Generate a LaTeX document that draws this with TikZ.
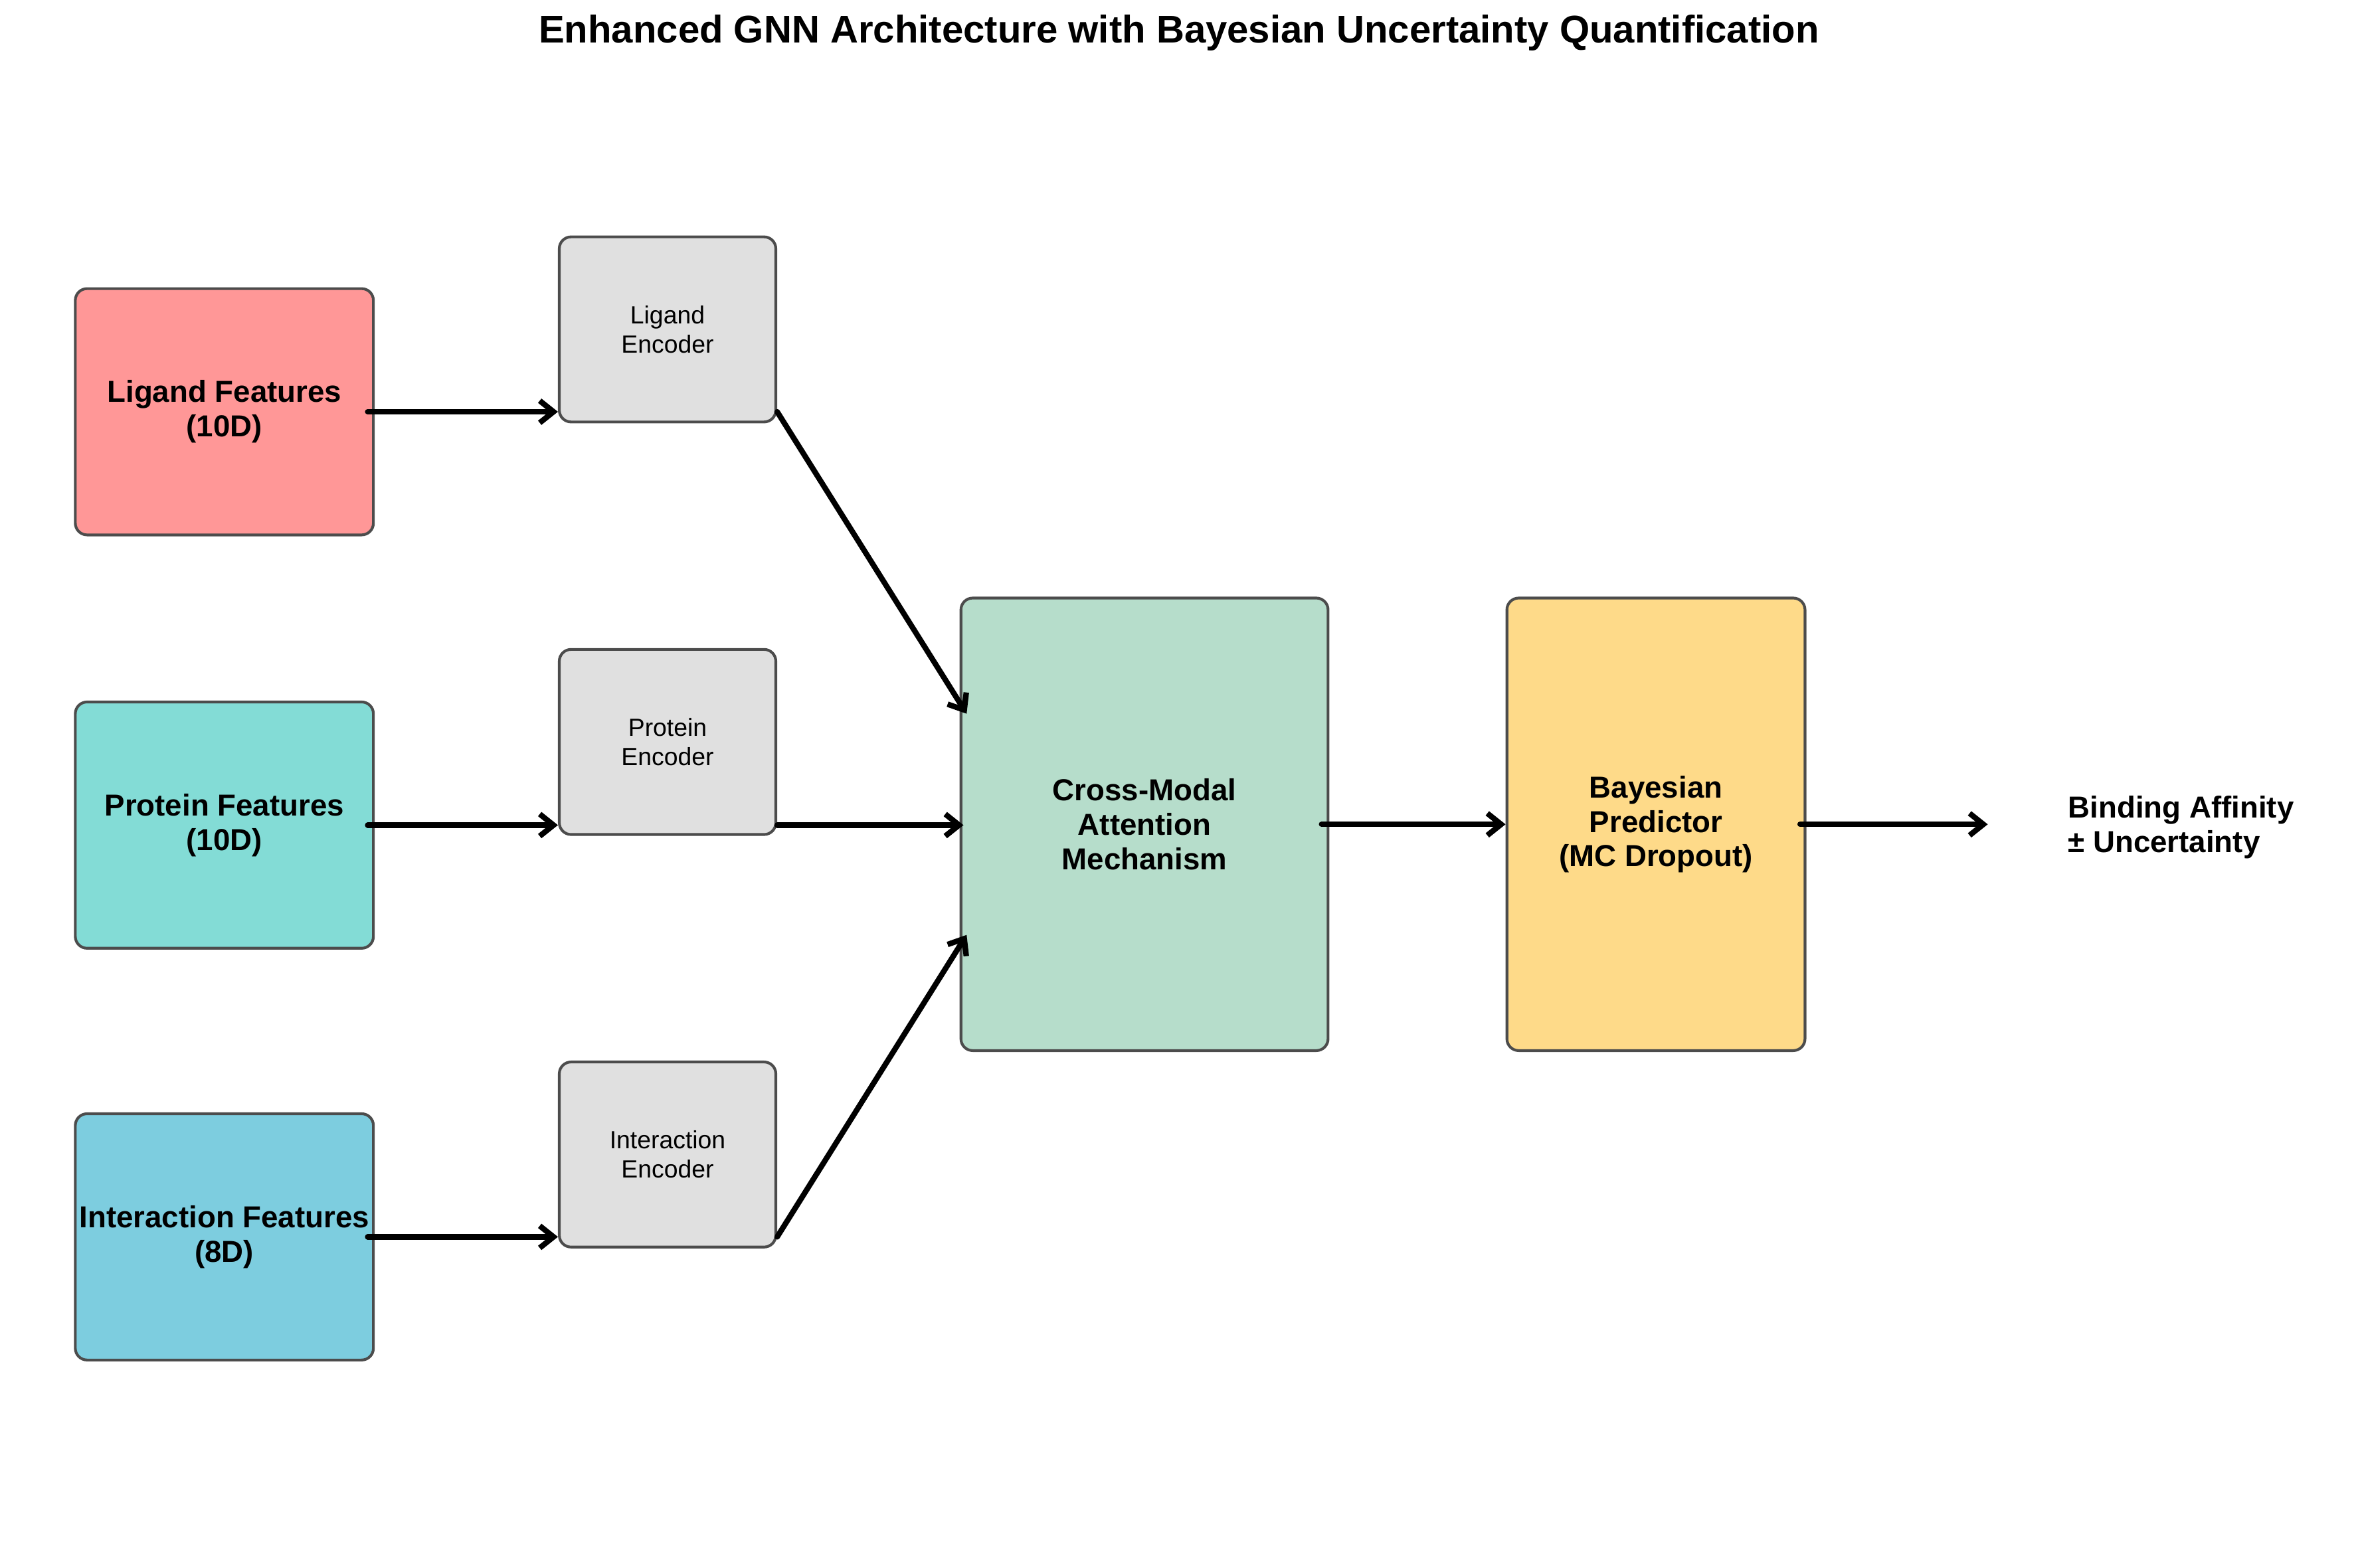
\documentclass[tikz,border=0pt]{standalone}
\usepackage{fontspec}
\setmainfont{Liberation Sans}
\usetikzlibrary{arrows.meta}

\definecolor{ligred}{HTML}{FF9797}
\definecolor{protur}{HTML}{83DCD6}
\definecolor{intblue}{HTML}{7DCDDF}
\definecolor{attgreen}{HTML}{B6DDCB}
\definecolor{bayyel}{HTML}{FEDA89}
\definecolor{encgray}{HTML}{E0E0E0}

\begin{document}
\begin{tikzpicture}
      [every node/.style={font=\fontsize{11}{12.5}\selectfont\bfseries,align=center},
       block/.style={draw=black!70,line width=1pt,rounded corners=0.15cm,inner sep=0pt},
       feat/.style={block,minimum width=3.8cm,minimum height=3.14cm},
       enc/.style={block,fill=encgray,minimum width=2.76cm,minimum height=2.36cm,
                   font=\fontsize{9}{10.5}\selectfont},
       big/.style={block,minimum height=5.77cm},
       flow/.style={-{Straight Barb[length=5pt,width=8pt]},line width=2pt,line cap=round}]
	\useasboundingbox (0,0) rectangle (30.06,19.99);

	\node (title) [font=\fontsize{14}{17}\selectfont\bfseries] at (15.03,19.57)
	  {Enhanced GNN Architecture with Bayesian Uncertainty Quantification};

	% inputs
	\node (ligf) [feat,fill=ligred]  at (2.86,14.74) {Ligand Features\\(10D)};
	\node (prof) [feat,fill=protur]  at (2.86,9.47)  {Protein Features\\(10D)};
	\node (intf) [feat,fill=intblue] at (2.86,4.22)  {Interaction Features\\(8D)};

	% encoders
	\node (lige) [enc] at (8.51,15.79) {Ligand\\Encoder};
	\node (proe) [enc] at (8.51,10.53) {Protein\\Encoder};
	\node (inte) [enc] at (8.51,5.27)  {Interaction\\Encoder};

	\node (cmam)  [big,fill=attgreen,minimum width=4.68cm] at (14.59,9.48) {Cross-Modal\\Attention\\Mechanism};
	\node (bpred) [big,fill=bayyel,minimum width=3.8cm]    at (21.11,9.48) {Bayesian\\Predictor\\(MC Dropout)};

	\node (out) [anchor=west,align=left] at (26.24,9.44) {Binding Affinity\\± Uncertainty};
	\coordinate (outtip) at (25.34,9.48);

	\foreach \from/\to in {ligf/lige,prof/proe,intf/inte}
	  \draw[flow] ([xshift=-0.09cm]\from.east) -- (\from.east -| \to.west);

	\draw[flow] (lige.east |- ligf.east) -- ([xshift=0.09cm,yshift=1.41cm]cmam.west);
	\draw[flow] (proe.east |- prof.east) -- ([xshift=0.05cm]prof.east -| cmam.west);
	\draw[flow] (inte.east |- intf.east) -- ([xshift=0.09cm,yshift=-1.41cm]cmam.west);

	\draw[flow] ([xshift=-0.1cm]cmam.east) -- (bpred.west);
	\draw[flow] ([xshift=-0.08cm]bpred.east) -- (outtip);
\end{tikzpicture}
\end{document}
